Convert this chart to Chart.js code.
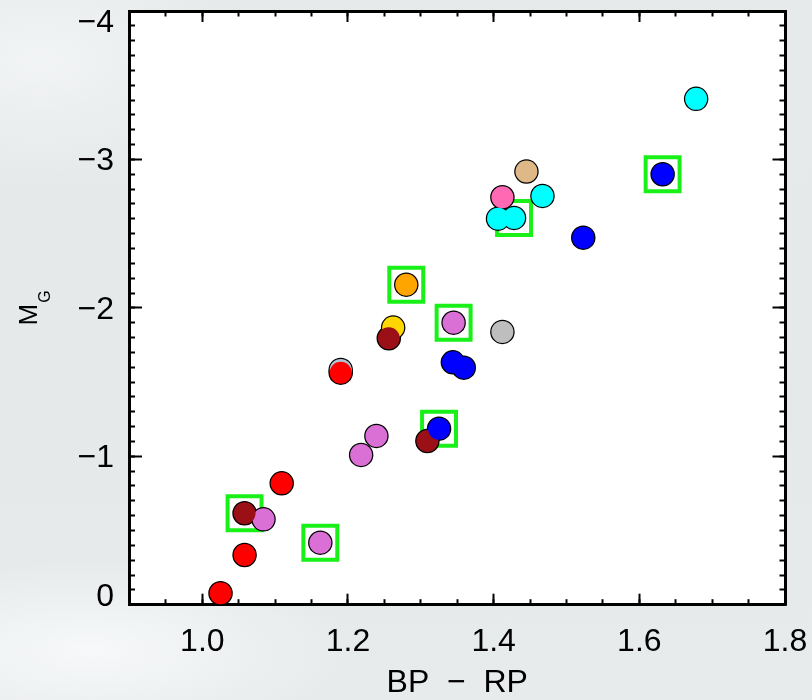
<!DOCTYPE html>
<html>
<head>
<meta charset="utf-8">
<script src="https://cdn.jsdelivr.net/npm/chart.js@4.4.1/dist/chart.umd.min.js"></script>
<style>
  html, body { margin: 0; padding: 0; }
  body {
    width: 812px; height: 700px; overflow: hidden;
    background:
      radial-gradient(ellipse 260px 90px at 90px 650px, rgba(247,249,250,0.95) 0%, rgba(247,249,250,0) 100%),
      radial-gradient(ellipse 200px 120px at 40px 60px, rgba(244,246,247,0.8) 0%, rgba(244,246,247,0) 100%),
      linear-gradient(180deg, #e7eaeb 0%, #e5e9ea 60%, #e8ebec 100%);
  }
  #wrap { width: 812px; height: 700px; }
  canvas { display: block; }
</style>
</head>
<body>
<div id="wrap"><canvas id="c" width="812" height="700"></canvas></div>
<script>
// ---- data ----
const bpRp = [1.190, 1.190, 1.262, 1.256, 1.309, 1.325, 1.412, 1.406, 1.428, 1.445, 1.467, 1.523, 1.632, 1.678,
              1.280, 1.345, 1.412, 1.344, 1.359, 1.239, 1.218, 1.109, 1.084, 1.058, 1.162, 1.058, 1.025];
const absMagG = [-1.582, -1.563, -1.867, -1.795, -1.103, -1.186, -2.745, -2.601, -2.606, -2.918, -2.754, -2.473, -2.900, -3.408,
                 -2.156, -1.900, -1.838, -1.633, -1.597, -1.137, -1.009, -0.818, -0.575, -0.616, -0.418, -0.335, -0.077];
const groups = ['steel', 'red', 'gold', 'darkred', 'darkred', 'blue', 'pink', 'cyan', 'cyan', 'tan', 'cyan', 'blue', 'blue', 'cyan',
                'orange', 'orchid', 'gray', 'blue', 'blue', 'orchid', 'orchid', 'red', 'orchid', 'darkred', 'orchid', 'red', 'red'];
const highlighted = [0, 0, 0, 0, 0, 1, 0, 0, 1, 0, 0, 0, 1, 0,
                     1, 1, 0, 0, 0, 0, 0, 0, 0, 1, 1, 0, 0];

// ---- axes / ticks ----
const xMajorTicks = [1.0, 1.2, 1.4, 1.6, 1.8];
const yMajorTicks = [0, -1, -2, -3, -4];
const yTickLabels = ['0', '\u22121', '\u22122', '\u22123', '\u22124'];
const xRange = [0.9, 1.8];
const yRange = [-4, 0];
const xMinorStep = 0.05;
const yMinorStep = 0.1;
const xTitle = 'BP  \u2212  RP';
const yTitleMain = 'M';
const yTitleSub = 'G';

// ---- styles ----
const groupColors = {
  steel: '#b4c4d6', red: '#ff0000', gold: '#ffd700', darkred: '#9a1016', blue: '#0000ff',
  pink: '#ff69b4', cyan: '#00ffff', tan: '#deb887', orange: '#ffa500', orchid: '#da70d6', gray: '#bebebe'
};
const FONT = "'Liberation Sans', Arial, sans-serif";
const boxColor = '#18f018';

function minorList(lo, hi, step) {
  const out = [];
  const n = Math.round((hi - lo) / step);
  for (let i = 0; i <= n; i++) out.push(+(lo + i * step).toFixed(4));
  return out;
}
const xMinorTicks = minorList(xRange[0], xRange[1], xMinorStep);
const yMinorTicks = minorList(yRange[0], yRange[1], yMinorStep);

const pts = bpRp.map((x, i) => ({ x: x, y: absMagG[i] }));
const fillColors = groups.map(g => groupColors[g]);
const boxPts = pts.filter((p, i) => highlighted[i]);

const plotBg = {
  id: 'plotBg',
  beforeDraw(chart) {
    const { ctx, chartArea: a } = chart;
    ctx.save();
    ctx.fillStyle = '#ffffff';
    ctx.fillRect(a.left, a.top, a.right - a.left, a.bottom - a.top);
    ctx.restore();
  }
};
const yTitlePlugin = {
  id: 'yTitle',
  afterDraw(chart) {
    const { ctx, chartArea: a } = chart;
    ctx.save();
    ctx.fillStyle = '#000';
    ctx.font = '26px ' + FONT;
    const wM = ctx.measureText(yTitleMain).width;
    ctx.font = '16px ' + FONT;
    const wG = ctx.measureText(yTitleSub).width;
    const total = wM + 1 + wG;
    const cy = (a.top + a.bottom) / 2;
    ctx.translate(36.7, cy + total / 2);
    ctx.rotate(-Math.PI / 2);
    ctx.textAlign = 'left';
    ctx.textBaseline = 'alphabetic';
    ctx.font = '26px ' + FONT;
    ctx.fillText(yTitleMain, 0, 0);
    ctx.font = '16px ' + FONT;
    ctx.fillText(yTitleSub, wM + 1, 13.3);
    ctx.restore();
  }
};

const tickFont = { family: FONT, size: 32, lineHeight: 1 };
function fixSize(w, h) {
  return s => {
    if (w !== null) s.width = w;
    if (h !== null) s.height = h;
    s.paddingLeft = 0; s.paddingRight = 0; s.paddingTop = 0; s.paddingBottom = 0;
  };
}
function axisBase(extra) {
  return Object.assign({ type: 'linear' }, extra);
}
const gridMajor = (len) => ({ drawOnChartArea: false, drawTicks: true, tickLength: -len, tickWidth: 2, tickColor: '#000', color: '#000' });

new Chart(document.getElementById('c'), {
  type: 'scatter',
  data: {
    datasets: [
      { label: 'fill', data: pts, pointRadius: 11, pointBackgroundColor: fillColors, pointBorderWidth: 0, clip: false, showLine: false },
      { label: 'outline', data: pts, pointRadius: 11, pointBackgroundColor: 'rgba(0,0,0,0)', pointBorderColor: '#000', pointBorderWidth: 2.5, clip: false, showLine: false },
      { label: 'boxes', data: boxPts, pointStyle: 'rect', pointRadius: 24, pointBackgroundColor: 'rgba(0,0,0,0)', pointBorderColor: boxColor, pointBorderWidth: 4, clip: false, showLine: false }
    ]
  },
  options: {
    responsive: false,
    animation: false,
    events: [],
    layout: { autoPadding: false, padding: { left: 0, right: 27, top: 11, bottom: 0 } },
    plugins: { legend: { display: false }, tooltip: { enabled: false } },
    scales: {
      x: axisBase({
        position: 'bottom', weight: 1, min: xRange[0], max: xRange[1],
        afterBuildTicks: s => { s.ticks = xMajorTicks.map(v => ({ value: v })); },
        afterFit: fixSize(null, 700 - 604.7),
        ticks: { callback: v => v.toFixed(1), font: tickFont, color: '#000', padding: 32, maxRotation: 0, autoSkip: false },
        grid: gridMajor(11),
        border: { display: true, width: 3, color: '#000' },
        title: { display: true, text: xTitle, color: '#000', font: { family: FONT, size: 32, lineHeight: 1 }, padding: { top: 0, bottom: 1 } }
      }),
      xMinor: axisBase({
        position: 'bottom', weight: 0, min: xRange[0], max: xRange[1],
        afterBuildTicks: s => { s.ticks = xMinorTicks.map(v => ({ value: v })); },
        afterFit: fixSize(null, 0),
        ticks: { display: false },
        grid: gridMajor(5.5),
        border: { display: false }
      }),
      xTop: axisBase({
        position: 'top', weight: 1, min: xRange[0], max: xRange[1],
        afterBuildTicks: s => { s.ticks = xMajorTicks.map(v => ({ value: v })); },
        afterFit: fixSize(null, 0),
        ticks: { display: false },
        grid: gridMajor(11),
        border: { display: true, width: 3, color: '#000' }
      }),
      xTopMinor: axisBase({
        position: 'top', weight: 0, min: xRange[0], max: xRange[1],
        afterBuildTicks: s => { s.ticks = xMinorTicks.map(v => ({ value: v })); },
        afterFit: fixSize(null, 0),
        ticks: { display: false },
        grid: gridMajor(5.5),
        border: { display: false }
      }),
      y: axisBase({
        position: 'left', weight: 1, min: yRange[0], max: yRange[1], reverse: true,
        afterBuildTicks: s => { s.ticks = yMajorTicks.map(v => ({ value: v })); },
        afterFit: fixSize(129.5, null),
        ticks: {
          callback: function (v) {
            const lbl = yTickLabels[yMajorTicks.indexOf(v)];
            if (v === this.min) return ['', lbl];
            if (v === this.max) return [lbl, ''];
            return lbl;
          },
          font: { family: FONT, size: 32, lineHeight: 0.625 }, color: '#000', padding: 28, labelOffset: 2, autoSkip: false
        },
        grid: gridMajor(12.5),
        border: { display: true, width: 3, color: '#000' }
      }),
      yMinor: axisBase({
        position: 'left', weight: 0, min: yRange[0], max: yRange[1], reverse: true,
        afterBuildTicks: s => { s.ticks = yMinorTicks.map(v => ({ value: v })); },
        afterFit: fixSize(0, null),
        ticks: { display: false },
        grid: gridMajor(5.5),
        border: { display: false }
      }),
      yRight: axisBase({
        position: 'right', weight: 1, min: yRange[0], max: yRange[1], reverse: true,
        afterBuildTicks: s => { s.ticks = yMajorTicks.map(v => ({ value: v })); },
        afterFit: fixSize(0, null),
        ticks: { display: false },
        grid: gridMajor(12.5),
        border: { display: true, width: 3, color: '#000' }
      }),
      yRightMinor: axisBase({
        position: 'right', weight: 0, min: yRange[0], max: yRange[1], reverse: true,
        afterBuildTicks: s => { s.ticks = yMinorTicks.map(v => ({ value: v })); },
        afterFit: fixSize(0, null),
        ticks: { display: false },
        grid: gridMajor(5.5),
        border: { display: false }
      })
    }
  },
  plugins: [plotBg, yTitlePlugin]
});
</script>
</body>
</html>
